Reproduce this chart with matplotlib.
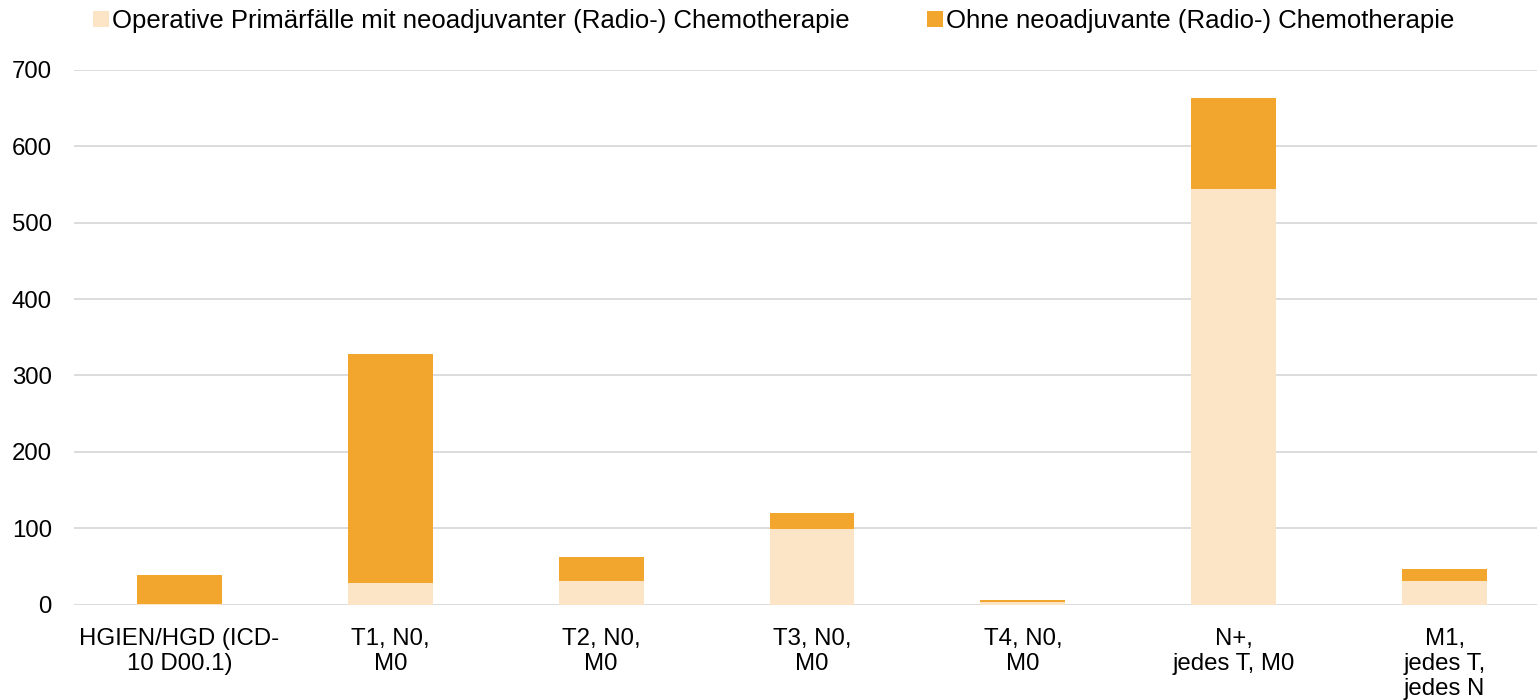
import matplotlib.pyplot as plt
import numpy as np

plt.rcParams['font.family'] = ['Liberation Sans', 'DejaVu Sans']

categories = ["HGIEN/HGD (ICD-\n10 D00.1)", "T1, N0,\nM0", "T2, N0,\nM0", "T3, N0,\nM0",
              "T4, N0,\nM0", "N+,\njedes T, M0", "M1,\njedes T,\njedes N"]
mit_neoadj = [1, 28, 31, 99, 3, 544, 31]
ohne_neoadj = [38, 300, 31, 21, 3, 119, 15]
series_labels = ["Operative Primärfälle mit neoadjuvanter (Radio-) Chemotherapie",
                 "Ohne neoadjuvante (Radio-) Chemotherapie"]
yticks = [0, 100, 200, 300, 400, 500, 600, 700]

light = "#FCE4C6"
orange = "#F2A62E"

fig = plt.figure(figsize=(15.37, 7), dpi=100)
ax = fig.add_axes([74 / 1537, 95.5 / 700, 1 - 74 / 1537, (604.5 - 70) / 700])

x = np.arange(len(categories))
w = 0.403
b1 = ax.bar(x, mit_neoadj, w, color=light, label=series_labels[0], zorder=2)
b2 = ax.bar(x, ohne_neoadj, w, bottom=mit_neoadj, color=orange, label=series_labels[1], zorder=2)

ax.set_ylim(0, 700)
ax.set_xlim(-0.5, 6.5 - 13 / 211)
ax.set_yticks(yticks)
ax.set_xticks(x)
ax.set_xticklabels(categories, fontsize=17.3, linespacing=1.18)
ax.tick_params(axis='y', labelsize=17.3, length=0, pad=16)
ax.tick_params(axis='x', length=0, pad=17)
ax.grid(axis='y', color='#D9D9D9', linewidth=1.3, zorder=0)
for s in ax.spines.values():
    s.set_visible(False)

fig.legend(handles=[b1, b2], labels=series_labels, loc='center',
           bbox_to_anchor=(774 / 1537, 1 - 21 / 700), ncol=2, frameon=False, fontsize=18.5,
           handlelength=0.6, handleheight=0.6, handletextpad=0.15, columnspacing=3.0,
           borderpad=0)

fig.savefig("out.png", dpi=100)
